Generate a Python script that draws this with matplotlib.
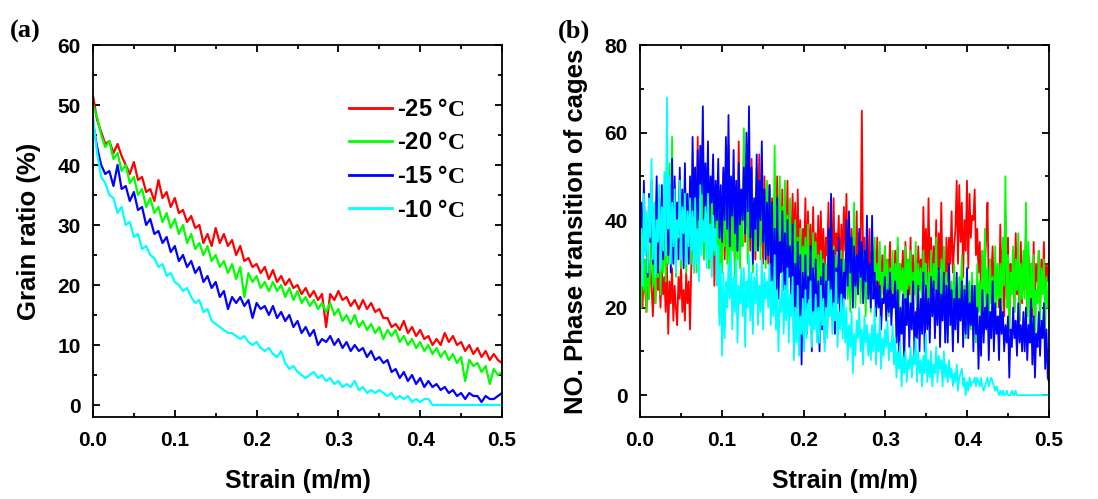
import numpy as np
import matplotlib
matplotlib.use("Agg")
import matplotlib.pyplot as plt
from matplotlib.ticker import AutoMinorLocator

plt.rcParams['font.family'] = ['Liberation Sans', 'DejaVu Sans']
plt.rcParams['font.weight'] = 'bold'
plt.rcParams['mathtext.fontset'] = 'custom'
plt.rcParams['mathtext.bf'] = 'Liberation Serif:bold'
plt.rcParams['mathtext.rm'] = 'Liberation Serif:bold'

labels = ['-25 °', '-20 °', '-15 °', '-10 °']
colors = ['#ff0000', '#00ff00', '#0000ff', '#00ffff']

# ---- panel (a): grain ratio (%) vs strain ----
a_red = [51.5, 47.5, 45.5, 43.5, 44, 42, 43.5, 41.5, 40, 38.5, 40.5, 37.5, 38, 35.5, 36, 34, 37.5, 34.5, 35.5, 33,
         34.5, 32, 32.5, 30.5, 31.5, 29.5, 30, 27, 28.5, 26.5, 29.5, 27, 28.5, 26.5, 27.5, 25, 26.5, 24, 24.5, 23,
         23.5, 22, 23, 21, 22.5, 20.5, 21.5, 20, 21, 19.5, 20, 18.5, 19.5, 18, 19, 17.5, 18.5, 13, 18.5, 17.5,
         19, 17.5, 18, 16.5, 17.5, 16, 17.5, 16, 17, 15.5, 16, 14.5, 14.5, 13, 13.5, 12.5, 14, 12, 13, 11.5,
         12.5, 11, 11.5, 10, 11, 10, 12, 10.5, 11.5, 10, 10.5, 9, 10, 8.5, 9.5, 8, 9, 7.5, 8.5, 7.5, 7]
a_green = [50, 48, 45, 43, 44, 41, 42, 39, 40, 37, 38, 35, 36, 33, 34.5, 32, 33, 30.5, 32, 29.5,
           31, 28.5, 30, 27, 28.5, 26, 27, 25, 26.5, 24, 25, 23, 24, 22, 23.5, 21, 23, 18, 22, 20.5,
           21.5, 19.5, 20.5, 19, 20.5, 19, 20, 18, 19.5, 17.5, 19, 17, 18, 16.5, 17.5, 16, 17, 15.5, 17, 15,
           16, 14, 15, 13.5, 15, 13, 14, 12.5, 13.5, 12, 13, 11, 12.5, 11.5, 12.5, 10.5, 11.5, 10, 11, 9.5,
           10.5, 9, 10, 8.5, 9.5, 8, 9, 7.5, 8.5, 7, 8, 4, 7.5, 6.5, 7, 5.5, 6.5, 3.5, 6, 5, 5.5]
a_blue = [47, 43, 40, 38.5, 39, 36.5, 40, 36, 36.5, 34, 35.5, 32.5, 33, 30, 31, 28.5, 29, 27, 28, 25.5,
          26.5, 24, 25, 23, 24, 22, 23, 20.5, 21.5, 19.5, 20.5, 18, 19, 16, 18, 17, 18, 16.5, 17.5, 14.5,
          17, 16, 16.5, 15, 16.5, 14.5, 15.5, 14, 15, 13, 14, 12, 13, 11.5, 12.5, 10, 11, 10.5, 11.5, 10,
          11, 9.5, 10.5, 9, 10, 9, 9.5, 8, 9, 7.5, 8, 7, 7.5, 5.5, 6, 4.5, 5.5, 4, 5, 3.5,
          4.5, 3, 4, 3, 3.5, 2.5, 3, 2, 2.5, 1.5, 2, 1, 2, 1.5, 1.5, 0.5, 1.5, 1, 1, 1.5, 2]
a_cyan = [48, 42, 38, 37, 35, 34.5, 32, 33, 30, 30.5, 28, 28.5, 26, 26.5, 25, 24.5, 23, 23.5, 21.5, 22,
          20.5, 20, 19, 19.5, 18, 17, 17.5, 15.5, 16, 14, 13.5, 13, 12.5, 12, 12, 11.5, 11, 11.5, 10.5, 10,
          10.5, 9.5, 9, 9.5, 8.5, 8, 9, 7, 6, 6.5, 5.5, 5, 4.5, 5, 5.5, 4.5, 5, 4, 4.5, 3.5,
          4, 3, 3.5, 3, 4, 2.5, 3, 2, 2.5, 2, 2.5, 2, 1.5, 2, 1, 1.5, 1, 1.5, 0.5, 1,
          0.5, 1, 1, 0, 0, 0, 0, 0, 0, 0, 0, 0, 0, 0, 0, 0, 0, 0, 0, 0, 0]

# ---- panel (b): number of cage phase transitions vs strain ----
b_red = [22, 28, 20, 31, 24, 19, 27, 22, 30, 25, 18, 26, 21, 33, 24, 28, 20, 29, 23, 27,
         19, 30, 14, 26, 21, 29, 17, 25, 20, 16, 27, 22, 30, 19, 24, 17, 28, 21, 26, 15,
         30, 45, 28, 52, 36, 59, 33, 48, 40, 55, 31, 46, 38, 50, 29, 43, 35, 48, 25, 40,
         33, 47, 29, 44, 36, 51, 31, 45, 38, 57, 30, 42, 35, 48, 28, 46, 37, 58, 32, 44,
         40, 57, 35, 50, 38, 46, 33, 54, 37, 44, 31, 48, 39, 55, 34, 45, 30, 50, 36, 43,
         30, 48, 35, 45, 28, 42, 36, 50, 30, 40, 33, 47, 26, 43, 35, 49, 29, 41, 34, 46,
         34, 44, 28, 47, 30, 40, 25, 38, 32, 45, 27, 42, 31, 39, 24, 43, 30, 37, 28, 41,
         28, 42, 30, 38, 26, 36, 32, 44, 27, 40, 31, 45, 26, 37, 33, 41, 25, 39, 30, 43,
         33, 46, 29, 40, 25, 38, 30, 36, 28, 42, 24, 37, 31, 65, 28, 36, 22, 34, 29, 38,
         22, 35, 28, 33, 24, 36, 21, 30, 26, 32, 23, 34, 20, 31, 27, 35, 22, 29, 25, 33,
         24, 34, 22, 30, 26, 33, 20, 35, 27, 31, 23, 36, 21, 32, 25, 30, 19, 34, 26, 31,
         25, 43, 30, 38, 24, 45, 28, 36, 22, 34, 27, 40, 23, 37, 29, 44, 25, 33, 21, 36,
         26, 36, 30, 42, 28, 34, 38, 49, 30, 48, 35, 44, 27, 40, 33, 49, 29, 46, 36, 41,
         40, 47, 32, 38, 28, 35, 22, 33, 26, 30, 36, 44, 24, 31, 27, 34, 21, 30, 25, 28,
         20, 39, 25, 34, 18, 41, 22, 36, 15, 30, 24, 33, 19, 37, 23, 29, 17, 35, 21, 31,
         24, 38, 20, 32, 25, 30, 18, 35, 22, 30, 26, 33, 19, 31, 24, 35, 21, 30, 26, 31]
b_green = [35, 20, 39, 24, 31, 19, 37, 22, 30, 42, 25, 33, 21, 38, 27, 43, 23, 36, 28, 41,
           26, 45, 30, 53, 33, 59, 31, 47, 27, 44, 35, 50, 29, 46, 32, 52, 28, 43, 34, 48,
           30, 50, 33, 46, 28, 52, 38, 55, 34, 49, 31, 45, 36, 53, 29, 48, 35, 50, 32, 47,
           29, 44, 18, 40, 28, 47, 34, 52, 30, 45, 26, 42, 33, 49, 27, 44, 31, 50, 29, 43,
           34, 61, 38, 55, 30, 48, 36, 50, 28, 42, 33, 52, 37, 46, 31, 54, 35, 45, 29, 49,
           35, 47, 26, 40, 30, 57, 33, 44, 35, 50, 28, 43, 32, 49, 26, 41, 30, 45, 27, 39,
           27, 40, 22, 36, 30, 38, 24, 34, 28, 36, 23, 39, 26, 33, 21, 37, 29, 35, 24, 32,
           20, 33, 25, 31, 18, 30, 24, 35, 21, 29, 26, 34, 19, 32, 23, 30, 17, 33, 25, 31,
           26, 34, 22, 32, 19, 31, 27, 44, 20, 30, 24, 35, 21, 29, 26, 33, 18, 31, 23, 30,
           19, 33, 24, 36, 21, 30, 26, 35, 20, 28, 25, 34, 22, 31, 18, 29, 24, 33, 21, 30,
           22, 36, 18, 30, 24, 29, 17, 34, 22, 31, 25, 33, 19, 28, 23, 35, 20, 30, 24, 29,
           20, 33, 25, 30, 16, 28, 22, 33, 19, 30, 24, 36, 21, 29, 17, 31, 23, 34, 20, 28,
           14, 28, 20, 26, 12, 30, 18, 24, 15, 27, 21, 32, 16, 25, 13, 29, 19, 26, 15, 28,
           17, 25, 12, 30, 19, 26, 15, 33, 20, 38, 18, 29, 14, 31, 21, 27, 16, 34, 20, 30,
           22, 30, 18, 36, 25, 50, 20, 32, 15, 28, 23, 34, 19, 31, 24, 37, 17, 30, 22, 33,
           22, 44, 18, 35, 12, 30, 20, 32, 9, 24, 21, 33, 17, 29, 23, 31, 15, 27, 20, 24]
b_blue = [26, 44, 30, 49, 33, 40, 27, 46, 35, 49, 30, 43, 37, 50, 28, 45, 33, 48, 31, 42,
          38, 54, 32, 48, 28, 54, 30, 50, 36, 44, 31, 52, 34, 47, 29, 53, 35, 46, 30, 50,
          38, 59, 41, 52, 35, 56, 40, 57, 46, 66, 39, 53, 42, 58, 36, 50, 44, 55, 37, 49,
          40, 54, 36, 48, 35, 52, 40, 59, 38, 64, 34, 50, 41, 56, 37, 49, 33, 53, 39, 47,
          40, 52, 37, 60, 42, 66, 36, 52, 30, 45, 38, 55, 33, 49, 40, 58, 35, 47, 31, 44,
          32, 48, 26, 44, 20, 38, 18, 45, 22, 35, 28, 42, 24, 37, 19, 40, 27, 34, 21, 39,
          12, 30, 20, 35, 15, 32, 7, 28, 18, 32, 14, 27, 22, 34, 10, 29, 17, 31, 13, 26,
          10, 27, 15, 30, 12, 26, 15, 38, 20, 46, 18, 33, 14, 29, 21, 36, 16, 31, 19, 28,
          22, 40, 25, 42, 28, 36, 20, 34, 25, 32, 23, 38, 27, 35, 21, 33, 26, 41, 22, 30,
          20, 41, 22, 28, 18, 26, 20, 25, 15, 22, 21, 27, 17, 24, 19, 28, 16, 23, 20, 26,
          12, 24, 8, 20, 14, 23, 6, 22, 16, 24, 11, 21, 15, 26, 9, 19, 13, 25, 10, 22,
          14, 28, 10, 25, 15, 22, 12, 27, 18, 26, 13, 24, 16, 29, 11, 23, 17, 28, 12, 25,
          12, 30, 16, 24, 10, 22, 15, 28, 12, 22, 17, 26, 11, 24, 14, 29, 13, 21, 16, 25,
          10, 25, 14, 20, 6, 18, 9, 24, 12, 20, 15, 23, 8, 19, 13, 26, 10, 21, 14, 18,
          8, 22, 14, 19, 10, 16, 12, 18, 4, 15, 11, 20, 13, 17, 9, 21, 12, 16, 10, 19,
          10, 20, 8, 16, 12, 22, 7, 18, 4, 14, 11, 19, 9, 17, 13, 21, 6, 15, 4, 3]
b_cyan = [30, 38, 25, 46, 32, 42, 28, 45, 36, 54, 31, 44, 27, 40, 35, 48, 29, 43, 33, 51,
          32, 68, 38, 50, 30, 44, 34, 47, 28, 40, 36, 49, 31, 43, 37, 46, 30, 42, 34, 45,
          33, 42, 28, 45, 30, 38, 26, 48, 32, 40, 35, 43, 29, 46, 31, 39, 27, 41, 33, 38,
          25, 34, 16, 30, 9, 28, 13, 26, 20, 30, 22, 33, 15, 27, 19, 31, 12, 25, 21, 29,
          18, 29, 11, 26, 20, 32, 17, 28, 14, 27, 21, 30, 16, 25, 19, 31, 15, 28, 22, 26,
          20, 30, 16, 26, 18, 32, 15, 24, 10, 22, 19, 28, 14, 25, 17, 29, 12, 23, 18, 27,
          8, 20, 12, 25, 9, 18, 14, 22, 10, 24, 13, 21, 16, 26, 11, 19, 15, 23, 12, 20,
          12, 25, 16, 22, 10, 20, 13, 26, 18, 24, 14, 21, 17, 28, 11, 19, 15, 23, 13, 22,
          12, 20, 8, 16, 11, 19, 5, 14, 9, 17, 13, 20, 10, 15, 7, 18, 12, 16, 9, 14,
          8, 16, 10, 20, 7, 14, 10, 18, 6, 13, 9, 15, 11, 17, 8, 12, 10, 16, 7, 13,
          4, 10, 6, 12, 2, 9, 5, 10, 3, 8, 6, 11, 4, 9, 7, 13, 3, 10, 5, 8,
          2, 9, 5, 14, 3, 8, 4, 10, 2, 7, 5, 11, 3, 9, 6, 8, 2, 10, 4, 7,
          3, 8, 4, 6, 2, 5, 3, 7, 1, 4, 5, 6, 2, 4, 0, 3, 1, 4, 2, 3,
          3, 4, 2, 4, 3, 2, 4, 2, 1, 2, 3, 4, 2, 3, 4, 3, 2, 1, 2, 1,
          0, 1, 0, 1, 0, 0, 1, 0, 0, 0, 1, 0, 0, 1, 0, 0, 0, 0, 0, 0,
          0, 0, 0, 0, 0, 0, 0, 0, 0, 0, 0, 0, 0, 0, 0, 0, 0, 0, 0, 0]

x_ticks = [0.0, 0.1, 0.2, 0.3, 0.4, 0.5]
x_ticklabels = ['0.0', '0.1', '0.2', '0.3', '0.4', '0.5']

fig = plt.figure(figsize=(10.98, 4.99), dpi=100)
ax1 = fig.add_axes([0.0847, 0.1643, 0.3725, 0.7455])
ax2 = fig.add_axes([0.5829, 0.1643, 0.3725, 0.7455])


def style(ax):
    for sp in ax.spines.values():
        sp.set_linewidth(1.3)
    ax.set_xticks(x_ticks)
    ax.set_xticklabels(x_ticklabels)
    ax.xaxis.set_minor_locator(AutoMinorLocator(2))
    ax.yaxis.set_minor_locator(AutoMinorLocator(2))
    ax.tick_params(which='both', direction='in', top=True, right=True, width=1.3)
    ax.tick_params(which='major', length=5, labelsize=15)
    ax.tick_params(axis='x', which='major', pad=10)
    ax.tick_params(axis='y', which='major', pad=9)
    ax.tick_params(which='minor', length=3)
    for t in ax.get_xticklabels() + ax.get_yticklabels():
        t.set_fontweight('bold')
    ax.set_xlim(0, 0.5)
    ax.set_xlabel('Strain (m/m)', fontsize=18, fontweight='bold')
    ax.xaxis.set_label_coords(0.5, -0.14)


series_a = [a_red, a_green, a_blue, a_cyan]
for vals, c, lab in zip(series_a, colors, labels):
    x = np.linspace(0, 0.5, len(vals))
    ax1.plot(x, vals, color=c, lw=1.6, label=lab + r'$\mathbf{C}$')
ax1.set_ylim(-2, 60)
ax1.set_yticks([0, 10, 20, 30, 40, 50, 60])
style(ax1)
ax1.set_ylabel('Grain ratio (%)', fontsize=18.5, fontweight='bold')
ax1.yaxis.set_label_coords(-0.128, 0.5)
leg = ax1.legend(loc='upper left', bbox_to_anchor=(0.626, 0.858), frameon=False,
                 fontsize=17, handlelength=1.8, handletextpad=0.25, labelspacing=0.45,
                 borderpad=0, borderaxespad=0)
for t in leg.get_texts():
    t.set_fontweight('bold')
for l in leg.get_lines():
    l.set_linewidth(2)

series_b = [b_red, b_green, b_blue, b_cyan]
for vals, c in zip(series_b, colors):
    x = np.linspace(0, 0.5, len(vals))
    ax2.plot(x, vals, color=c, lw=1.3)
ax2.set_ylim(-5, 80)
ax2.set_yticks([0, 20, 40, 60, 80])
style(ax2)
ax2.set_ylabel('NO. Phase transition of cages', fontsize=18.5, fontweight='bold')
ax2.yaxis.set_label_coords(-0.126, 0.5)

fig.text(0.009, 0.925, '(a)', fontsize=19, fontweight='bold', family='Liberation Serif')
fig.text(0.508, 0.925, '(b)', fontsize=19, fontweight='bold', family='Liberation Serif')

fig.savefig('out.png', dpi=100)
